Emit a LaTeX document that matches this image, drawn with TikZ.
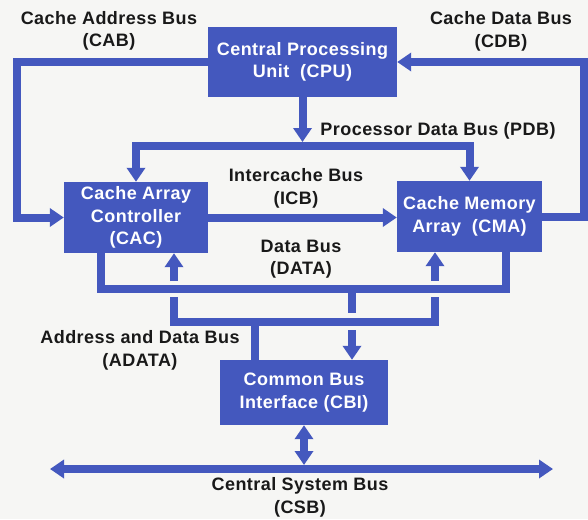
\documentclass[tikz,border=0pt]{standalone}
\usepackage{fontspec}
\setmainfont[LetterSpace=2.5]{Liberation Sans}
\usetikzlibrary{arrows.meta,calc}
\definecolor{busblue}{RGB}{68,88,190}
\definecolor{paper}{RGB}{246,246,244}
\definecolor{ink}{RGB}{25,25,25}
\begin{document}
\begin{tikzpicture}[x=1pt,y=-1pt,
  >={Triangle[width=18pt,length=14pt]},
  bus/.style={draw=busblue,line width=8pt,line join=miter},
  unit/.style={fill=busblue,text=white,font=\bfseries\fontsize{18}{22.5}\selectfont,
    align=center,inner sep=0pt},
  lbl/.style={text=ink,font=\bfseries\fontsize{18}{22.5}\selectfont,
    align=center,inner sep=0pt}]
% page
\fill[paper] (0,0) rectangle (588,519);
\useasboundingbox (0,0) rectangle (588,519);

% functional units
\node[unit,minimum width=189pt,minimum height=70pt] (CPU) at (302.5,62)
  {Central Processing\\Unit~~(CPU)};
\node[unit,minimum width=144pt,minimum height=71pt] (CAC) at (136,217.5)
  {Cache Array\\Controller\\(CAC)};
\node[unit,minimum width=145pt,minimum height=71pt] (CMA) at (469.5,216.5)
  {Cache Memory\\Array~~(CMA)};
\node[unit,minimum width=168pt,minimum height=65pt] (CBI) at (304,392.5)
  {Common Bus\\Interface (CBI)};

% bus routing points
\coordinate (cabCorner) at (17,62);
\coordinate (cdbCorner) at (584,62);
\coordinate (pdbLine) at (0,146);
\coordinate (pdbHub) at (302.5,142);
\coordinate (dataL) at (101,289);
\coordinate (dataR) at (506,289);
\coordinate (dataDrop) at (352,289);
\coordinate (adL) at (174,322);
\coordinate (adR) at (435,322);
\coordinate (adDrop) at (255,322);
\coordinate (csbL) at (50,469);
\coordinate (csbR) at (553,469);

% cache address bus
\draw[bus,->] (CPU.west) -- (cabCorner) |- (CAC.west);
% cache data bus
\draw[bus,->] (CMA.east) -| (cdbCorner) -- (CPU.east);
% processor data bus
\draw[bus,->] (CPU.south) -- (pdbHub);
\draw[bus,<->] (CAC.north) |- (CMA.north |- pdbLine) -- (CMA.north);
% intercache bus
\draw[bus,->] (CAC.east) -- (CAC.east -| CMA.west);
% data bus
\draw[bus] (CAC.south -| dataL) -- (dataL) -- (dataR) -- (CMA.south -| dataR);
\draw[bus] (dataDrop) -- ($(dataDrop |- adL)+(0,-9)$);
\draw[bus,->] ($(dataDrop |- adL)+(0,8)$) -- (CBI.north -| dataDrop);
% address and data bus
\draw[bus] ($(dataL -| adL)+(0,8)$) -- (adL) -- (adR) -- ($(dataR -| adR)+(0,8)$);
\draw[bus,->] ($(dataL -| adL)+(0,-8)$) -- (CAC.south -| adL);
\draw[bus,->] ($(dataR -| adR)+(0,-8)$) -- (CMA.south -| adR);
\draw[bus] (adDrop) -- (CBI.north -| adDrop);
% central system bus
\draw[bus,<->] (CBI.south) -- ($(CBI.south |- csbL)+(0,-4)$);
\draw[bus,<->] (csbL) -- (csbR);

% bus names
\node[lbl] (labCAB) at (109,31) {Cache Address Bus\\(CAB)};
\node[lbl] (labCDB) at (501,31.5) {Cache Data Bus\\(CDB)};
\node[lbl] (labPDB) at (438,131) {Processor Data Bus (PDB)};
\node[lbl] (labICB) at (296,188.5) {Intercache Bus\\(ICB)};
\node[lbl] (labDATA) at (301,259) {Data Bus\\(DATA)};
\node[lbl] (labADATA) at (140,350.5) {Address and Data Bus\\(ADATA)};
\node[lbl] (labCSB) at (300,497.5) {Central System Bus\\(CSB)};
\end{tikzpicture}
\end{document}
